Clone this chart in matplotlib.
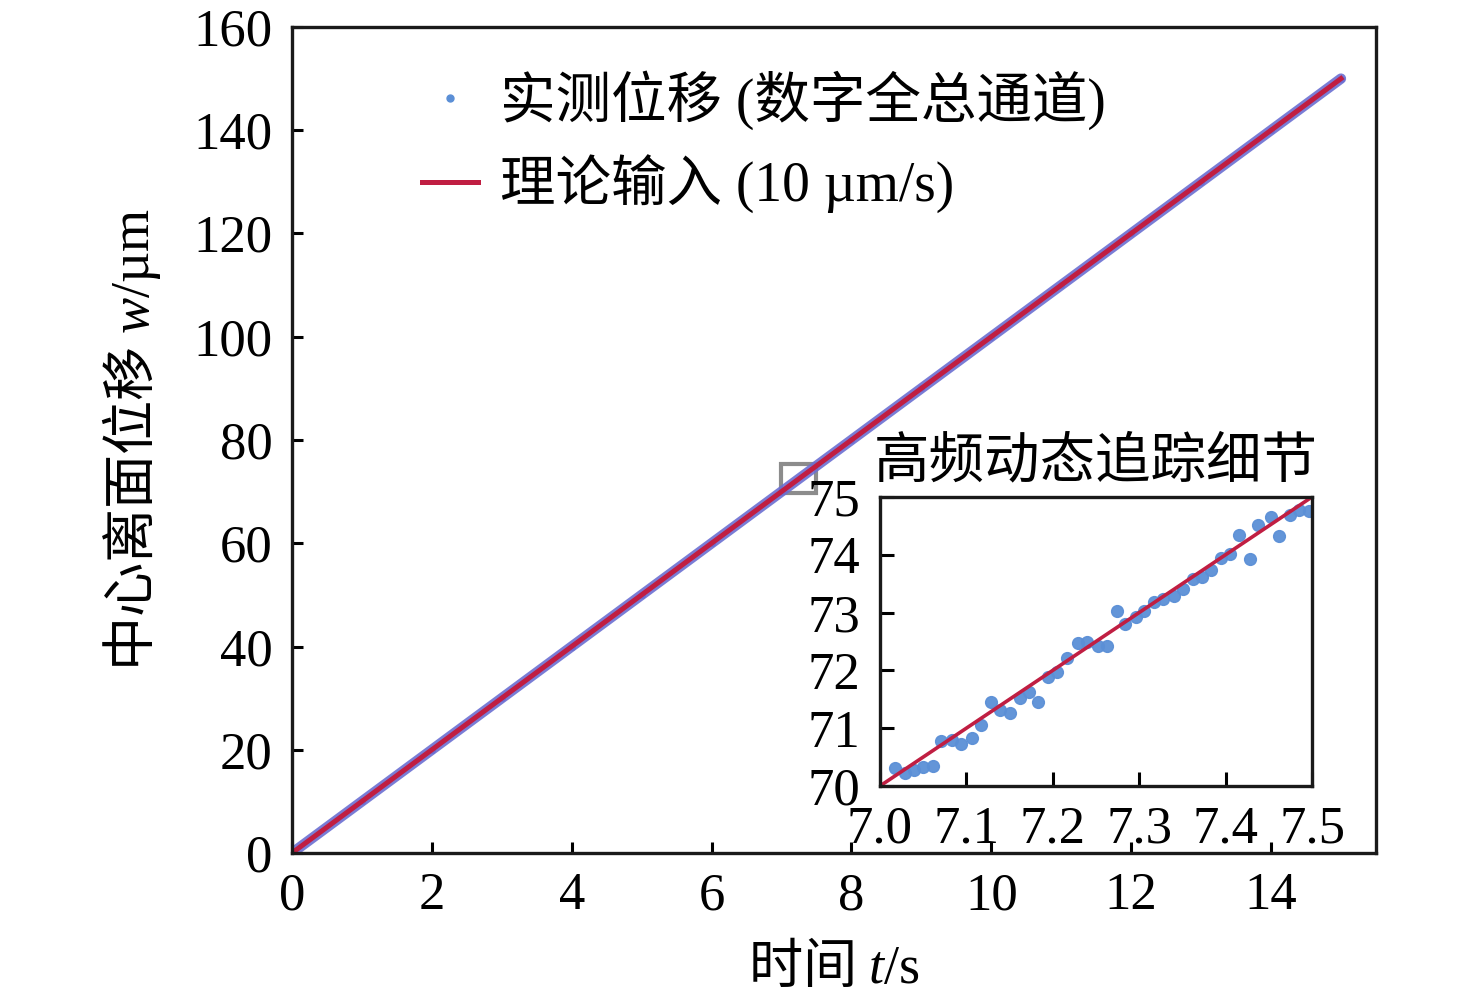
import matplotlib
matplotlib.use('Agg')
import matplotlib.pyplot as plt
from matplotlib.lines import Line2D
from matplotlib.patches import Rectangle
import numpy as np

plt.rcParams['font.family'] = ['Liberation Serif', 'Noto Sans CJK SC']
plt.rcParams['mathtext.fontset'] = 'custom'
plt.rcParams['mathtext.it'] = 'Liberation Serif:italic'
plt.rcParams['mathtext.rm'] = 'Liberation Serif'

t_main = [0, 1, 2, 3, 4, 5, 6, 7, 8, 9, 10, 11, 12, 13, 14, 15]
w_main = [0, 10, 20, 30, 40, 50, 60, 70, 80, 90, 100, 110, 120, 130, 140, 150]

# theoretical input, 10 um/s
t_theory = [0, 15]
w_theory = [0, 150]

# zoomed window 7.0 - 7.5 s
t_zoom = [7.017, 7.029, 7.039, 7.050, 7.061, 7.071, 7.083, 7.094, 7.106, 7.117,
          7.128, 7.139, 7.150, 7.162, 7.173, 7.183, 7.195, 7.205, 7.216, 7.229,
          7.240, 7.252, 7.263, 7.274, 7.284, 7.296, 7.306, 7.317, 7.328, 7.340,
          7.351, 7.362, 7.373, 7.383, 7.395, 7.405, 7.416, 7.428, 7.438, 7.452,
          7.462, 7.475, 7.485, 7.496]
w_zoom = [70.31, 70.22, 70.27, 70.32, 70.34, 70.77, 70.80, 70.72, 70.83, 71.06,
          71.45, 71.31, 71.26, 71.53, 71.63, 71.45, 71.88, 71.98, 72.22, 72.48,
          72.49, 72.42, 72.42, 73.03, 72.81, 72.92, 73.02, 73.18, 73.23, 73.28,
          73.40, 73.58, 73.62, 73.73, 73.95, 74.01, 74.35, 73.92, 74.52, 74.66,
          74.33, 74.68, 74.77, 74.76]
t_zoom_theory = [7.0, 7.5]
w_zoom_theory = [70, 75]

blue = '#6b6fd2'
dot_blue = '#5b8fd6'
red = '#c01e42'
fs = 38

fig = plt.figure(figsize=(14.76, 10.07), dpi=100)
ax = fig.add_axes([0.1978, 0.1529, 0.7344, 0.8203])

ax.plot(t_main, w_main, '-', color=blue, lw=7.5, alpha=0.9, solid_capstyle='round')
ax.plot(t_main, w_main, 'o', color=blue, ms=4)
ax.plot(t_theory, w_theory, '-', color=red, lw=3.6)
ax.add_patch(Rectangle((7.0, 69.8), 0.5, 5.6, fill=False, ec='#8c8c8c', lw=3))

ax.set_xlim(0, 15.5)
ax.set_ylim(0, 160)
ax.set_xticks(range(0, 15, 2))
ax.set_yticks(range(0, 161, 20))
ax.tick_params(direction='in', length=8, width=2.2, labelsize=fs, pad=14)
for s in ax.spines.values():
    s.set_linewidth(2.4)
    s.set_color('#1a1a1a')

ax.set_xlabel('时间 $t\\mathrm{/s}$', fontsize=fs + 1, family='Noto Sans CJK SC', labelpad=14)
ax.set_ylabel('中心离面位移 $w\\mathrm{/µm}$', fontsize=fs + 1, family='Noto Sans CJK SC', labelpad=22)

handles = [Line2D([], [], ls='none', marker='o', ms=5, color=dot_blue),
           Line2D([], [], color=red, lw=3.6)]
labels = ['实测位移 (数字全总通道)', '理论输入 (10 µm/s)']
ax.legend(handles, labels, loc='upper left', bbox_to_anchor=(0.12, 0.948),
          frameon=False, fontsize=40, handlelength=1.0, handletextpad=0.4,
          labelspacing=0.45, borderpad=0, borderaxespad=0)

# inset
ins = fig.add_axes([0.5962, 0.2195, 0.2927, 0.2870])
ins.plot(t_zoom, w_zoom, 'o', color=dot_blue, ms=8.5, alpha=0.95)
ins.plot(t_zoom_theory, w_zoom_theory, '-', color=red, lw=2.6)
ins.set_xlim(7.0, 7.5)
ins.set_ylim(70, 75)
ins.set_xticks(np.round(np.arange(7.0, 7.51, 0.1), 1))
ins.set_xticklabels(['7.0', '7.1', '7.2', '7.3', '7.4', '7.5'])
ins.set_yticks(range(70, 76))
ins.tick_params(direction='in', length=10, width=2.2, labelsize=fs)
ins.tick_params(axis='x', pad=14)
ins.tick_params(axis='y', pad=14)
for s in ins.spines.values():
    s.set_linewidth(2.4)
    s.set_color('#1a1a1a')
ins.set_title('高频动态追踪细节', fontsize=40, family='Noto Sans CJK SC', pad=14)

fig.savefig('out.png', dpi=100)
